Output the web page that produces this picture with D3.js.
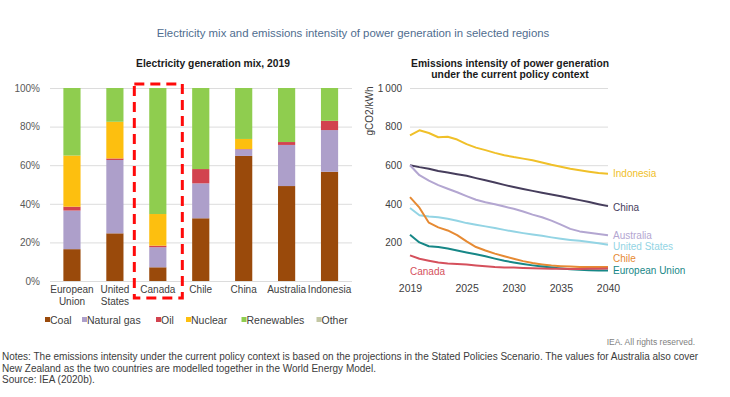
<!DOCTYPE html>
<html>
<head>
<meta charset="utf-8">
<script src="https://cdn.jsdelivr.net/npm/d3@7"></script>
<style>
  body { margin: 0; background: #fff; }
  text { font-family: "Liberation Sans", Arial, sans-serif; }
</style>
</head>
<body>
<div class="chart"></div>
<script>
// Left chart data: electricity generation mix 2019 (% share)
var regions = ["European Union", "United States", "Canada", "Chile", "China", "Australia", "Indonesia"];
var fuels = ["Coal", "Natural gas", "Oil", "Nuclear", "Renewables", "Other"];
var coal = [16.5, 24.7, 7.1, 32.5, 64.8, 49.2, 56.6];
var naturalGas = [20, 38, 10.4, 18.1, 3.4, 21.3, 21.6];
var oil = [2, 0.8, 0.8, 7.4, 0.2, 1.5, 4.8];
var nuclear = [26.5, 19, 16.4, 0, 5.2, 0, 0];
var renewables = [35, 17.5, 65.3, 42, 26.4, 28, 17];
var other = [0, 0, 0, 0, 0, 0, 0];
var shareTicks = [0, 20, 40, 60, 80, 100];

// Right chart data: emissions intensity (gCO2/kWh)
var years = [2019, 2020, 2021, 2022, 2023, 2024, 2025, 2026, 2027, 2028, 2029, 2030,
  2031, 2032, 2033, 2034, 2035, 2036, 2037, 2038, 2039, 2040];
var indonesia = [755, 781, 767, 745, 747, 733, 709, 691, 678, 664, 652, 642, 634, 626, 614, 602, 592, 582, 574, 566, 559, 556];
var china = [600, 590, 582, 570, 562, 553, 545, 533, 522, 510, 498, 487, 477, 467, 457, 448, 439, 429, 419, 409, 398, 388];
var australia = [600, 548, 520, 497, 478, 460, 440, 421, 408, 398, 386, 374, 360, 344, 330, 313, 292, 270, 257, 250, 244, 237];
var unitedStates = [378, 341, 334, 330, 322, 312, 300, 291, 283, 275, 265, 256, 248, 241, 234, 226, 219, 213, 208, 202, 196, 188];
var chile = [435, 380, 302, 278, 262, 238, 205, 176, 158, 142, 128, 115, 103, 93, 86, 80, 77, 75, 73, 72, 72, 72];
var europeanUnion = [240, 200, 180, 176, 168, 158, 148, 139, 128, 116, 105, 96, 88, 81, 75, 70, 65, 61, 58, 56, 55, 55];
var canada = [133, 115, 105, 96, 91, 88, 85, 80, 76, 72, 70, 70, 68, 66, 65, 64, 63, 62, 62, 63, 64, 65];
var yearTicks = [2019, 2025, 2030, 2035, 2040];
var intensityTicks = [200, 400, 600, 800, 1000];

// SVG area
var svgWidth = 730;
var svgHeight = 397;

var svg = d3.select(".chart")
  .append("svg")
  .attr("width", svgWidth)
  .attr("height", svgHeight);

svg.append("rect")
  .attr("width", svgWidth)
  .attr("height", svgHeight)
  .attr("fill", "#fff");

// Main title
svg.append("text")
  .attr("x", 353)
  .attr("y", 37)
  .attr("text-anchor", "middle")
  .attr("fill", "#4f6d8f")
  .style("font-size", "11.4px")
  .text("Electricity mix and emissions intensity of power generation in selected regions");

// ---------- Left chart: stacked bars ----------
var fuelColors = {
  "Coal": "#9a4a0b",
  "Natural gas": "#ad9fca",
  "Oil": "#d2434f",
  "Nuclear": "#fdbf0f",
  "Renewables": "#8fcd4f",
  "Other": "#c3c7a3"
};

var mixRows = regions.map(function(r, i) {
  return {
    region: r,
    "Coal": coal[i],
    "Natural gas": naturalGas[i],
    "Oil": oil[i],
    "Nuclear": nuclear[i],
    "Renewables": renewables[i],
    "Other": other[i]
  };
});

var xBandScale = d3.scaleBand()
  .domain(regions)
  .range([50.5, 351])
  .paddingInner(0.6)
  .paddingOuter(0.3);

var yShareScale = d3.scaleLinear()
  .domain([0, 100])
  .range([281, 88]);

svg.append("text")
  .attr("x", 213)
  .attr("y", 67)
  .attr("text-anchor", "middle")
  .attr("fill", "#1a1a1a")
  .style("font-size", "10.3px")
  .style("font-weight", "bold")
  .text("Electricity generation mix, 2019");

// gridlines + tick labels
var leftAxis = d3.axisLeft(yShareScale)
  .tickValues(shareTicks)
  .tickSize(-302)
  .tickPadding(10)
  .tickFormat(d => d + "%");

var leftAxisGroup = svg.append("g")
  .attr("transform", "translate(50, 0)")
  .call(leftAxis);
leftAxisGroup.select(".domain").remove();
leftAxisGroup.selectAll("line").attr("stroke", "#dcdcdc");
leftAxisGroup.selectAll("text")
  .attr("fill", "#595959")
  .style("font-size", "10px")
  .style("font-family", "Liberation Sans, Arial, sans-serif");

var stacked = d3.stack().keys(fuels)(mixRows);

svg.selectAll(".series")
  .data(stacked)
  .enter()
  .append("g")
  .attr("fill", d => fuelColors[d.key])
  .selectAll("rect")
  .data(d => d)
  .enter()
  .append("rect")
  .attr("x", d => xBandScale(d.data.region))
  .attr("y", d => yShareScale(d[1]))
  .attr("width", xBandScale.bandwidth())
  .attr("height", d => yShareScale(d[0]) - yShareScale(d[1]));

// category labels (wrapped on two lines)
var bottomAxis = d3.axisBottom(xBandScale).tickSize(0).tickPadding(5);
var bottomAxisGroup = svg.append("g")
  .attr("transform", "translate(0, 281)")
  .call(bottomAxis);
bottomAxisGroup.select(".domain").remove();
bottomAxisGroup.selectAll("text")
  .attr("fill", "#404040")
  .style("font-size", "10px")
  .style("font-family", "Liberation Sans, Arial, sans-serif")
  .each(function(d) {
    var words = (d === "European Union" || d === "United States") ? d.split(" ") : [d];
    var t = d3.select(this).text(null);
    words.forEach(function(w, i) {
      t.append("tspan")
        .attr("x", 0)
        .attr("dy", i === 0 ? "0.71em" : "1.15em")
        .text(w);
    });
  });

// red dashed highlight around Canada
var canadaX = xBandScale("Canada") + xBandScale.bandwidth() / 2;
svg.append("rect")
  .attr("x", canadaX - 23.5)
  .attr("y", 84)
  .attr("width", 48)
  .attr("height", 214)
  .attr("fill", "none")
  .attr("stroke", "#ff0a0a")
  .attr("stroke-width", 3)
  .attr("stroke-dasharray", "10,6");

// legend
var legendX = [45, 82, 156, 186, 241.5, 316.5];
var legend = svg.selectAll(".legend")
  .data(fuels)
  .enter()
  .append("g")
  .attr("transform", (d, i) => `translate(${legendX[i]}, 320)`);
legend.append("rect")
  .attr("x", 0)
  .attr("y", -3)
  .attr("width", 5)
  .attr("height", 5)
  .attr("fill", d => fuelColors[d]);
legend.append("text")
  .attr("x", 5)
  .attr("y", 4)
  .attr("fill", "#404040")
  .style("font-size", "10.5px")
  .text(d => d);

// ---------- Right chart: emissions intensity lines ----------
var seriesNames = ["Indonesia", "China", "Australia", "United States", "Chile", "European Union", "Canada"];
var seriesValues = [indonesia, china, australia, unitedStates, chile, europeanUnion, canada];
var lineColors = ["#f0c029", "#463d5c", "#b3a6d1", "#93d4e4", "#e68a33", "#178787", "#d5505c"];
var labelY = [173, 207, 235, 246.5, 258, 270, 271];

var xYearScale = d3.scaleLinear()
  .domain([2019, 2040])
  .range([410, 608]);

var yIntensityScale = d3.scaleLinear()
  .domain([0, 1000])
  .range([281, 88]);

svg.append("text")
  .attr("x", 510)
  .attr("y", 67)
  .attr("text-anchor", "middle")
  .attr("fill", "#1a1a1a")
  .style("font-size", "10.3px")
  .style("font-weight", "bold")
  .text("Emissions intensity of power generation");
svg.append("text")
  .attr("x", 510)
  .attr("y", 78)
  .attr("text-anchor", "middle")
  .attr("fill", "#1a1a1a")
  .style("font-size", "10.3px")
  .style("font-weight", "bold")
  .text("under the current policy context");

var spaceFormat = d3.formatLocale({ decimal: ".", thousands: "\u2009", grouping: [3], currency: ["", ""] }).format(",");

var rightAxis = d3.axisLeft(yIntensityScale)
  .tickValues(intensityTicks)
  .tickSize(-198)
  .tickPadding(8)
  .tickFormat(d => spaceFormat(d));
var rightAxisGroup = svg.append("g")
  .attr("transform", "translate(410, 0)")
  .call(rightAxis);
rightAxisGroup.select(".domain").remove();
rightAxisGroup.selectAll("line").attr("stroke", "#dcdcdc");
rightAxisGroup.selectAll("text")
  .attr("fill", "#404040")
  .style("font-size", "10px")
  .style("font-family", "Liberation Sans, Arial, sans-serif");

var yearAxis = d3.axisBottom(xYearScale)
  .tickValues(yearTicks)
  .tickSize(0)
  .tickPadding(4)
  .tickFormat(d3.format("d"));
var yearAxisGroup = svg.append("g")
  .attr("transform", "translate(0, 281)")
  .call(yearAxis);
yearAxisGroup.select(".domain").remove();
yearAxisGroup.selectAll("text")
  .attr("fill", "#404040")
  .style("font-size", "10.5px")
  .style("font-family", "Liberation Sans, Arial, sans-serif");

// y axis title
svg.append("text")
  .attr("transform", "translate(373, 111) rotate(-90)")
  .attr("text-anchor", "middle")
  .attr("fill", "#404040")
  .style("font-size", "10px")
  .text("gCO2/kWh");

var line = d3.line()
  .x((d, i) => xYearScale(years[i]))
  .y(d => yIntensityScale(d));

svg.selectAll(".intensity")
  .data(seriesValues)
  .enter()
  .append("path")
  .attr("class", "intensity")
  .attr("d", d => line(d))
  .attr("fill", "none")
  .attr("stroke", (d, i) => lineColors[i])
  .attr("stroke-width", 2)
  .attr("stroke-linejoin", "round");

svg.selectAll(".seriesLabel")
  .data(seriesNames)
  .enter()
  .append("text")
  .attr("x", d => d === "Canada" ? 410 : 613)
  .attr("y", (d, i) => labelY[i])
  .attr("dy", "0.35em")
  .attr("fill", (d, i) => lineColors[i])
  .style("font-size", "10px")
  .text(d => d);

// footer
svg.append("text")
  .attr("x", 695)
  .attr("y", 345)
  .attr("text-anchor", "end")
  .attr("fill", "#7f7f7f")
  .style("font-size", "8.5px")
  .text("IEA. All rights reserved.");

var notes = [
  "Notes: The emissions intensity under the current policy context is based on the projections in the Stated Policies Scenario. The values for Australia also cover",
  "New Zealand as the two countries are modelled together in the World Energy Model.",
  "Source: IEA (2020b)."
];
svg.selectAll(".note")
  .data(notes)
  .enter()
  .append("text")
  .attr("x", 2)
  .attr("y", (d, i) => 360 + i * 11.5)
  .attr("fill", "#3c3c3c")
  .style("font-size", "10px")
  .text(d => d);
</script>
</body>
</html>
